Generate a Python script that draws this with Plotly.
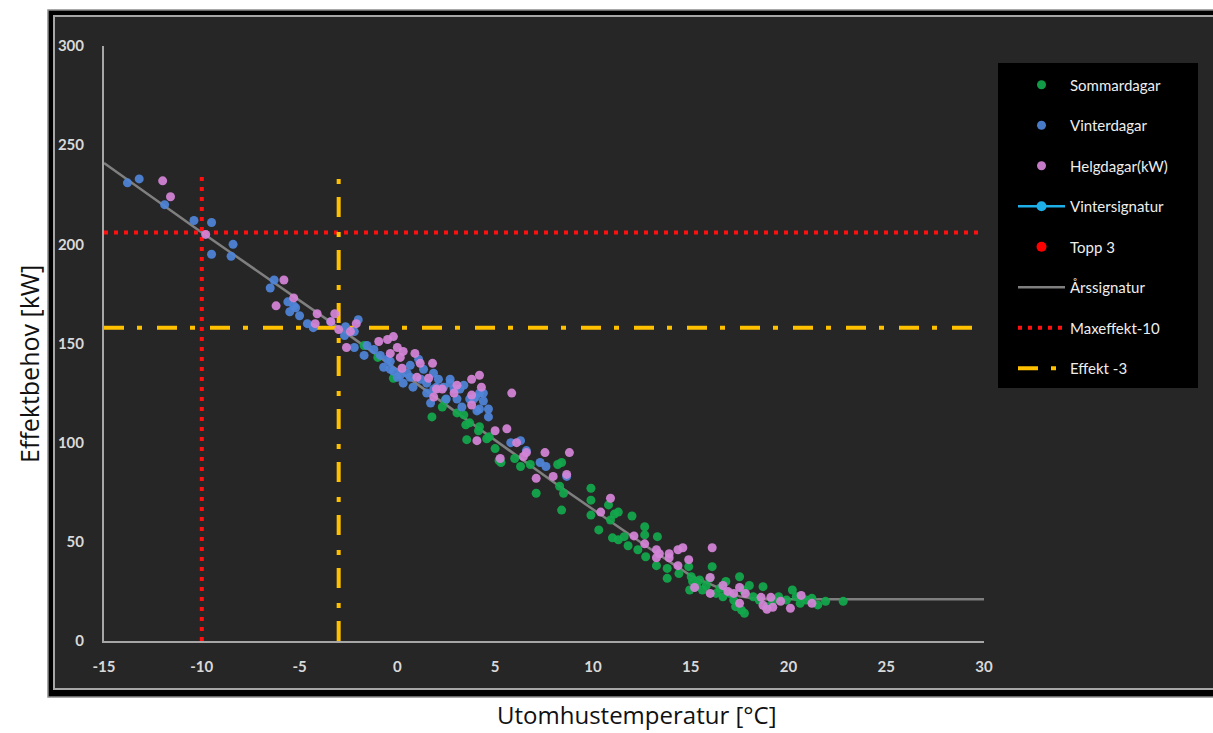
import plotly.graph_objects as go

# ---------------- data ----------------
sommar_x = [-1.7, -1.0, -0.2, 1.77, 2.45, 3.05, 3.4, 3.7, 4.2, 4.7, 3.55, 5.0, 5.2, 6.3, 6.8, 8.2, 8.3, 9.9,
            3.5, 4.15, 4.57, 5.3, 7.1, 8.5, 8.4, 8.4, 9.9, 9.9, 10.3, 10.8, 11.1, 11.3, 10.9, 12.0, 11.0, 11.3,
            11.6, 11.8, 12.65, 12.65, 12.3, 12.7, 13.3, 13.25, 13.8, 13.8, 14.4, 14.9, 15.03, 15.1, 15.3, 14.95,
            15.46, 15.6, 15.8, 15.97, 16.1, 16.3, 16.5, 16.65, 17.0, 17.2, 17.3, 17.6, 17.75, 17.5, 18.0, 18.2,
            18.5, 18.7, 18.9, 19.2, 19.5, 19.9, 20.2, 20.4, 20.6, 20.9, 21.2, 21.5, 21.9, 22.8, 16.8, 17.7, 2.3, 6.0]
sommar_y = [149, 143, 132.5, 113, 121.5, 115, 114, 110, 108, 103, 101.5, 97, 91, 88, 89, 89, 78, 77,
            109, 106, 102, 90, 74.5, 74.5, 90, 66, 71, 63.5, 56, 68.6, 64, 65, 61, 63, 52, 51,
            52.6, 48, 57.6, 53.5, 46, 42.5, 52.6, 38, 36.6, 31.6, 34, 37.5, 32.4, 30, 28, 25.7,
            30.8, 25.7, 28, 31.6, 37.5, 24, 26.6, 22.3, 24, 20.7, 17.3, 15.6, 14, 32.4, 28, 22.3,
            20.7, 27.4, 17.3, 20, 22.3, 20.7, 25.7, 22.3, 19, 20.7, 21.5, 18.2, 20, 20, 30, 25.7, 118, 92]

vinter_x = [-13.8, -13.2, -11.9, -10.4, -9.5, -9.5, -8.4, -8.5, -6.3, -6.5, -5.6, -5.3, -5.5, -5.0, -4.6, -4.3,
            -5.2, -2.65, -2.0, -3.4, -2.2, -2.7, -2.2, -1.55, -1.7, -1.2, -0.87, -0.5, -0.36, 0.0, 0.5, 0.3, 0.8,
            1.2, 1.5, 2.0, -0.7, -0.2, 0.15, 0.66, -0.36, 1.09, 0.66, 1.86, 1.34, 1.5, 1.85, 2.1, 2.36, 2.7, 2.9,
            3.2, 3.4, 3.05, 3.3, 3.7, 4.0, 4.2, 4.4, 4.66, 4.07, 4.66, 5.8, 6.3, 6.6, 7.3, 7.6, 8.66, 1.7, 2.5,
            3.9, 4.2, 4.4, 2.7]
vinter_y = [231, 233, 220, 212, 211, 195, 200, 194, 182, 178, 171, 169, 166, 164, 160, 158,
            168, 158.5, 162, 161, 156, 154, 148, 149, 144, 147, 144, 142, 137, 133, 135, 130, 128,
            132, 125, 128, 138, 136, 134, 133, 141, 142, 139, 127, 137, 130, 135, 132, 128, 132, 127,
            127, 129, 122, 118, 122, 123, 125, 121, 117, 116, 113, 100, 101, 96, 90, 88, 83, 120, 122,
            122, 117, 125, 130]

helg_x = [-12.0, -11.6, -9.8, -5.8, -6.2, -5.3, -4.1, -4.2, -3.4, -3.2, -3.0, -2.4, -2.1, -2.6, -0.95, -0.5,
          -0.2, 0.0, 0.3, 0.15, 0.9, 1.8, 0.24, 1.0, 1.6, 2.0, -0.36, 1.17, 2.3, 2.9, 3.8, 4.2, 4.3, 3.8, 3.8,
          5.85, 5.0, 5.6, 4.07, 6.1, 6.6, 6.45, 7.55, 8.8, 8.66, 7.97, 7.1, 5.26, 1.86, 3.05, 10.9, 10.4, 12.1,
          12.65, 13.25, 13.4, 13.9, 14.35, 14.6, 14.9, 14.35, 13.9, 16.1, 16.0, 15.2, 16.0, 16.65, 16.9, 17.2,
          17.5, 17.5, 17.8, 18.6, 19.1, 18.7, 18.9, 19.2, 20.1, 20.65, 21.2, 13.25, 19.6]
helg_y = [232, 224, 205, 182, 169, 173, 165, 160, 161, 165, 157, 156, 160, 148, 151, 152,
          153.5, 148, 146, 143, 145, 140, 137.5, 133, 132.5, 127, 145, 140, 127, 125, 132, 134, 128, 124, 119,
          125, 106, 107, 101, 100, 95, 93, 95, 95, 84, 83, 82, 92, 123, 129, 72, 65, 53,
          49, 46, 44, 44, 46, 47, 41, 38, 42, 47, 32, 27, 24, 28, 25, 24,
          27, 19, 24, 22, 22, 18, 16, 17, 16.5, 23, 19, 42, 20]

ars_x = [-15, -10, -3, 8, 13, 15, 16.5, 17.5, 18.5, 30]
ars_y = [241, 206, 158, 80, 46, 33, 26.5, 22.5, 21, 21]

max_x = [-15, 30, None, -10, -10]
max_y = [206, 206, None, 0, 235]

eff_x = [-15, 30, None, -3, -3]
eff_y = [158, 158, None, 0, 235]

x_ticks = [-15, -10, -5, 0, 5, 10, 15, 20, 25, 30]
y_ticks = [0, 50, 100, 150, 200, 250, 300]

# ---------------- figure ----------------
fig = go.Figure()

fig.add_trace(go.Scatter(x=ars_x, y=ars_y, mode="lines", name="Årssignatur",
                         line=dict(color="#7f7f7f", width=2.5), legendgroup="g6", legendrank=6))
fig.add_trace(go.Scatter(x=max_x, y=max_y, mode="lines", name="Maxeffekt-10",
                         line=dict(color="#ff1010", width=4, dash="4px,6px"), legendgroup="g7", legendrank=7))
fig.add_trace(go.Scatter(x=eff_x, y=eff_y, mode="lines", name="Effekt -3",
                         line=dict(color="#ffc000", width=4, dash="20px,13px,5px,15px"),
                         legendgroup="g8", legendrank=8))
fig.add_trace(go.Scatter(x=sommar_x, y=sommar_y, mode="markers", name="Sommardagar",
                         marker=dict(color="#14a84c", size=9, opacity=0.92), legendgroup="g1", legendrank=1))
fig.add_trace(go.Scatter(x=vinter_x, y=vinter_y, mode="markers", name="Vinterdagar",
                         marker=dict(color="#4f84d8", size=9, opacity=0.92), legendgroup="g2", legendrank=2))
fig.add_trace(go.Scatter(x=helg_x, y=helg_y, mode="markers", name="Helgdagar(kW)",
                         marker=dict(color="#d584d8", size=9, opacity=0.92), legendgroup="g3", legendrank=3))
fig.add_trace(go.Scatter(x=[None], y=[None], mode="lines+markers", name="Vintersignatur",
                         line=dict(color="#1eaee8", width=2.5), marker=dict(color="#1eaee8", size=10),
                         legendgroup="g4", legendrank=4))
fig.add_trace(go.Scatter(x=[None], y=[None], mode="markers", name="Topp 3",
                         marker=dict(color="#ff0000", size=10), legendgroup="g5", legendrank=5))

L, R, T, B = 104, 229, 46, 92
W, H = 1213, 733
pw, ph = W - L - R, H - T - B


def px(x):
    return (x - L) / pw


def py(y):
    return (H - B - y) / ph


shapes = [
    dict(type="rect", xref="paper", yref="paper", x0=px(48), x1=px(1240), y0=py(697), y1=py(10),
         fillcolor="#000000", line=dict(color="#8c8c8c", width=1.5), layer="below"),
    dict(type="rect", xref="paper", yref="paper", x0=px(54), x1=px(1240), y0=py(689), y1=py(16),
         fillcolor="#262626", line=dict(color="#a6a6a6", width=2), layer="below"),
    dict(type="rect", xref="paper", yref="paper", x0=px(998), x1=px(1198), y0=py(388), y1=py(63),
         fillcolor="#000000", line=dict(width=0), layer="below"),
]

tick_font = dict(family="Lato, Carlito, sans-serif", size=15, color="#d9d9d9", weight="bold")

fig.update_layout(
    width=W, height=H,
    margin=dict(l=L, r=R, t=T, b=B, pad=0),
    paper_bgcolor="#ffffff",
    plot_bgcolor="#262626",
    shapes=shapes,
    showlegend=True,
    legend=dict(x=px(1013), y=py(68.5), xanchor="left", yanchor="top",
                bgcolor="rgba(0,0,0,0)", borderwidth=0,
                font=dict(family="Lato, Carlito, sans-serif", size=15, color="#eeeeee"),
                tracegroupgap=18, itemwidth=47, traceorder="grouped"),
    xaxis=dict(range=[-15, 30], tickvals=x_ticks, ticktext=[str(v) for v in x_ticks],
               showgrid=False, zeroline=False, showline=True, linecolor="#a6a6a6", linewidth=2,
               ticks="", ticklabelstandoff=11, tickfont=tick_font),
    yaxis=dict(range=[0, 300], tickvals=y_ticks, ticktext=[str(v) for v in y_ticks],
               showgrid=False, zeroline=False, showline=True, linecolor="#a6a6a6", linewidth=2,
               ticks="", ticklabelstandoff=15, tickfont=tick_font),
    annotations=[
        dict(text="Utomhustemperatur [°C]", xref="paper", yref="paper", x=px(637), y=py(732),
             xanchor="center", yanchor="bottom", showarrow=False, borderpad=0,
             font=dict(family="Open Sans, Noto Sans, sans-serif", size=24, color="#111111")),
        dict(text="Effektbehov [kW]", xref="paper", yref="paper", x=px(29), y=py(364),
             xanchor="center", yanchor="middle", showarrow=False, textangle=-90,
             font=dict(family="Open Sans, Noto Sans, sans-serif", size=25, color="#111111")),
    ],
)

fig.write_html("out.html")
